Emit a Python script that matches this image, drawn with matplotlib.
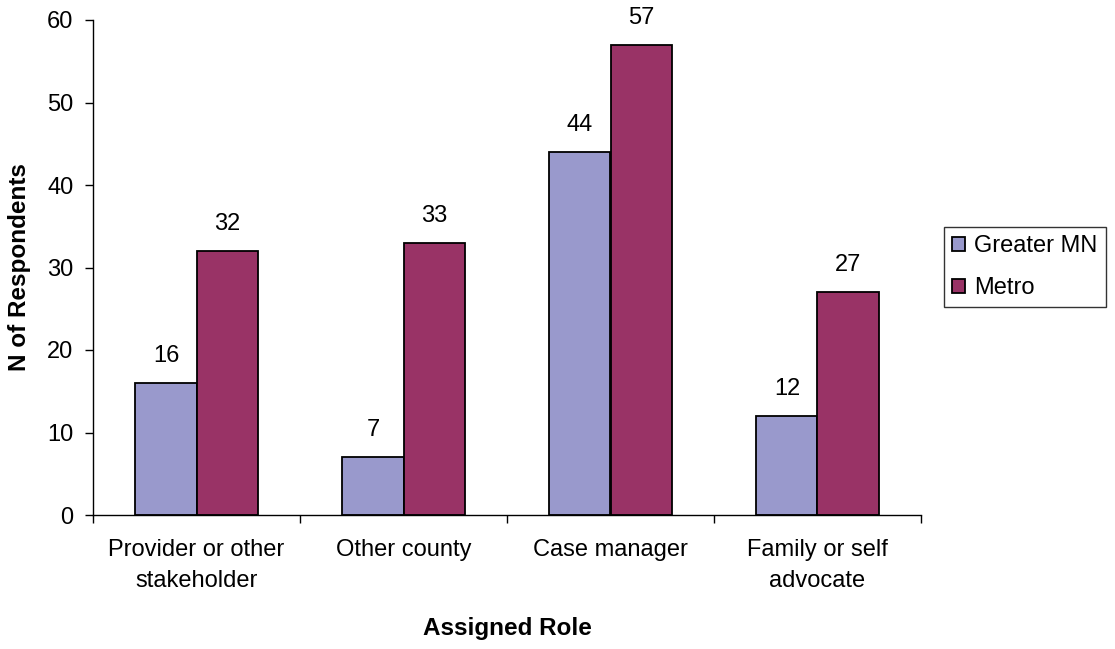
import matplotlib
matplotlib.use("Agg")
import matplotlib.pyplot as plt
from matplotlib.ticker import FixedLocator
import numpy as np

categories = ["Provider or other\nstakeholder", "Other county", "Case manager", "Family or self\nadvocate"]
series_names = ["Greater MN", "Metro"]
greater_mn = [16, 7, 44, 12]
metro = [32, 33, 57, 27]
y_ticks = [0, 10, 20, 30, 40, 50, 60]

plt.rcParams["font.family"] = ["Liberation Sans", "DejaVu Sans"]

W, H = 1115, 649
fig = plt.figure(figsize=(W / 100, H / 100), dpi=100)
ax = fig.add_axes([93 / W, 1 - 515 / H, (921 - 93) / W, (515 - 20) / H])

x = np.arange(len(categories))
w = 0.295
colors = ["#9999CC", "#993366"]
b1 = ax.bar(x - w / 2, greater_mn, w, color=colors[0], edgecolor="black", linewidth=1.3, label=series_names[0])
b2 = ax.bar(x + w / 2, metro, w, color=colors[1], edgecolor="black", linewidth=1.3, label=series_names[1])

for bars, vals in ((b1, greater_mn), (b2, metro)):
    for r, v in zip(bars, vals):
        ax.annotate(str(v), (r.get_x() + r.get_width() / 2, v), xytext=(0, 15),
                    textcoords="offset points", ha="center", va="baseline", fontsize=17)

ax.set_xlim(-0.5, len(categories) - 0.5)
ax.set_ylim(0, 60)
ax.set_yticks(y_ticks)
ax.set_xticks(x)
ax.set_xticklabels(categories, fontsize=17, linespacing=1.55)
ax.xaxis.set_minor_locator(FixedLocator(np.arange(len(categories) + 1) - 0.5))
ax.tick_params(axis="x", which="major", length=0, pad=17)
ax.tick_params(axis="x", which="minor", length=6, width=1, direction="out")
ax.tick_params(axis="y", length=6, width=1, direction="out", labelsize=17, pad=8)
for s in ("top", "right"):
    ax.spines[s].set_visible(False)
ax.spines["left"].set_linewidth(1)
ax.spines["bottom"].set_linewidth(1)

ax.set_xlabel("Assigned Role", fontsize=17.5, fontweight="bold", labelpad=18)
fig.text(20 / W, 1 - 267 / H, "N of Respondents", rotation=90, ha="center", va="center",
         fontsize=17.5, fontweight="bold")

leg = ax.legend(loc="center left", bbox_to_anchor=(944 / W, 1 - 267 / H),
                bbox_transform=fig.transFigure, fontsize=17, frameon=True,
                fancybox=False, edgecolor="black", handlelength=0.55, handleheight=0.55,
                handletextpad=0.38, borderpad=0.35, labelspacing=0.85, borderaxespad=0)
leg.get_frame().set_linewidth(1)

fig.savefig("out.png", dpi=100, facecolor="white")
